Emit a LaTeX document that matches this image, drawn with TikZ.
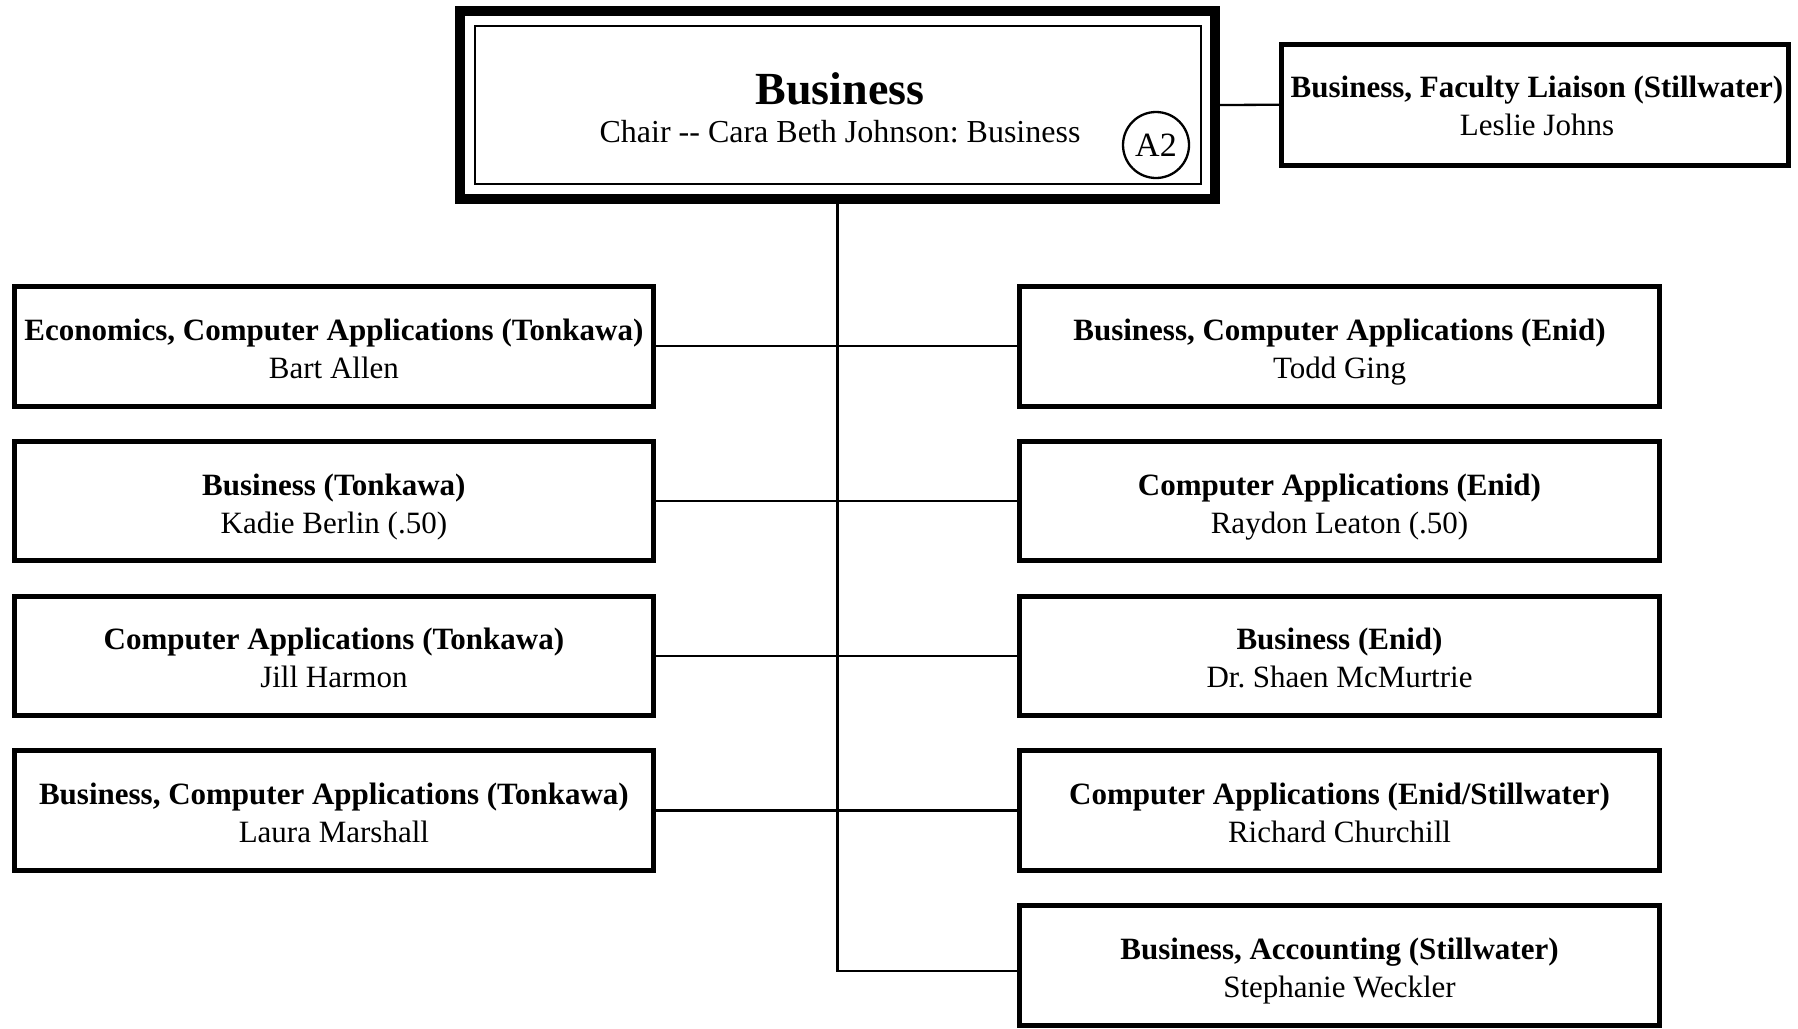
\documentclass[tikz,border=0pt]{standalone}
\usepackage{fontspec}
\setmainfont{Liberation Serif}
\usetikzlibrary{calc}
\frenchspacing
\tikzset{
  unitbox/.style={draw, line width=5pt, minimum width=639.5pt, minimum height=119.5pt, inner sep=0pt},
  head/.style={font=\fontsize{31}{38}\selectfont\bfseries, anchor=base, inner sep=0pt},
  nm/.style={font=\fontsize{31}{38}\selectfont, anchor=base, inner sep=0pt},
  conn/.style={line width=2.3pt},
}
\newcommand{\orgbox}[5]{%
  \node[unitbox] (#1) at (#2,#3) {};
  \node[head] (#1h) at ($(#1.center)+(0,-6)$) {#4};
  \node[nm] (#1n) at ($(#1.center)+(0,32)$) {#5};
}
\begin{document}
\begin{tikzpicture}[x=1pt,y=-1pt]
\useasboundingbox (0,0) rectangle (1798,1028);
% top box
\node[draw, line width=10pt, minimum width=755pt, minimum height=188pt, inner sep=0pt] (top) at (837.5,105) {};
\node[draw, line width=2.7pt, minimum width=726pt, minimum height=158pt, inner sep=0pt] (topin) at (838,105) {};
\node[font=\fontsize{46}{50}\selectfont\bfseries, anchor=base, inner sep=0pt] (tt) at (840,104) {Business};
\node[font=\fontsize{32}{38}\selectfont, anchor=base, inner sep=0pt] (ts) at (840,142) {Chair -{}- Cara Beth Johnson: Business};
\node[draw, circle, line width=2.3pt, minimum size=66pt, inner sep=0pt, font=\fontsize{34}{36}\selectfont] (a2) at (1156,145) {A2};
% liaison
\node[draw, line width=5pt, minimum width=507pt, minimum height=121.5pt, inner sep=0pt] (lia) at (1535,104.75) {};
\node[head] (liah) at (1537,97) {Business, Faculty Liaison (Stillwater)};
\node[nm] (lian) at (1537,135) {Leslie Johns};
% left column
\orgbox{l1}{333.9}{346.25}{Economics, Computer Applications (Tonkawa)}{Bart Allen}
\orgbox{l2}{333.9}{501}{Business (Tonkawa)}{Kadie Berlin (.50)}
\orgbox{l3}{333.9}{655.75}{Computer Applications (Tonkawa)}{Jill Harmon}
\orgbox{l4}{333.9}{810.5}{Business, Computer Applications (Tonkawa)}{Laura Marshall}
% right column
\orgbox{r1}{1339.5}{346.25}{Business, Computer Applications (Enid)}{Todd Ging}
\orgbox{r2}{1339.5}{501}{Computer Applications (Enid)}{Raydon Leaton (.50)}
\orgbox{r3}{1339.5}{655.75}{Business (Enid)}{Dr. Shaen McMurtrie}
\orgbox{r4}{1339.5}{810.5}{Computer Applications (Enid/Stillwater)}{Richard Churchill}
\orgbox{r5}{1339.5}{965.25}{Business, Accounting (Stillwater)}{Stephanie Weckler}
% connectors
\draw[conn] (top.east) -- (lia.west);
\draw[conn] (top.south) |- ($(r5.west)+(0,6)$);
\foreach \i in {1,2,3,4} {
  \draw[conn] (l\i.east) -- (r\i.west);
}
\end{tikzpicture}
\end{document}
